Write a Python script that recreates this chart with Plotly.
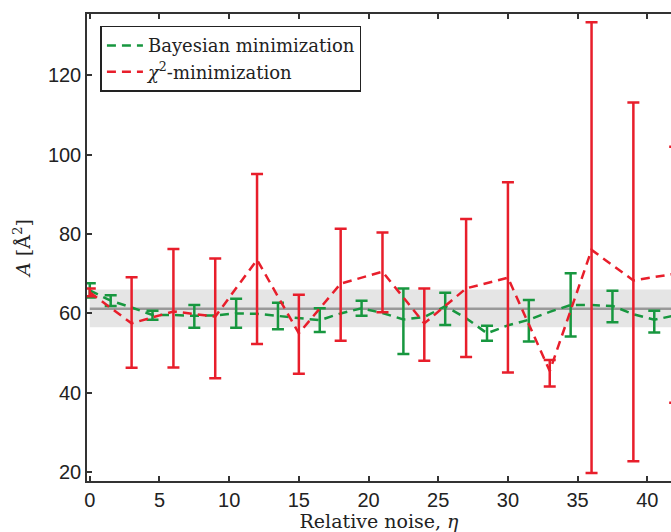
import plotly.graph_objects as go

# ---------------- data ----------------
bayes_eta = [0, 1.5, 3, 4.5, 6, 7.5, 9, 10.5, 12, 13.5, 15, 16.5, 18, 19.5, 21,
             22.5, 24, 25.5, 27, 28.5, 30, 31.5, 33, 34.5, 36, 37.5, 39, 40.5, 42]
bayes_A = [65.8, 63.2, 61.5, 59.6, 59.6, 59.4, 59.5, 60.0, 59.9, 59.4, 58.8, 58.3, 60.0, 61.3, 60.1,
           58.5, 59.1, 61.8, 58.8, 55.0, 57.0, 58.4, 60.4, 62.1, 62.1, 61.9, 59.8, 58.4, 59.5]
# error bar limits (None where no error bar is drawn)
bayes_hi = [67.6, 64.6, None, 60.7, None, 62.1, None, 63.7, None, 62.7, None, 61.3, None, 63.2, None,
            66.3, None, 65.2, None, 56.9, None, 63.4, None, 70.1, None, 65.7, None, 60.7, None]
bayes_lo = [64.0, 61.9, None, 58.4, None, 56.4, None, 56.4, None, 56.0, None, 55.3, None, 59.4, None,
            49.8, None, 57.1, None, 53.1, None, 52.9, None, 54.2, None, 57.8, None, 55.2, None]

chi_eta = [0, 3, 6, 9, 12, 15, 18, 21, 24, 27, 30, 33, 36, 39, 42]
chi_A = [65.3, 57.5, 60.5, 59.2, 73.5, 55.0, 67.5, 70.5, 57.5, 66.3, 69.0, 45.5, 76.0, 68.3, 70.0]
chi_hi = [66.3, 69.1, 76.2, 73.8, 95.1, 64.7, 81.3, 80.4, 66.3, 83.8, 93.0, 48.3, 133.3, 113.1, 102.0]
chi_lo = [64.3, 46.3, 46.4, 43.7, 52.3, 44.8, 53.1, 60.3, 48.1, 49.0, 45.1, 41.6, 19.8, 22.8, 37.5]

ref_A = 61.2
ref_lo = 56.5
ref_hi = 66.0

x_ticks = [0, 5, 10, 15, 20, 25, 30, 35, 40]
y_ticks = [20, 40, 60, 80, 100, 120]

GREEN = "#17973f"
RED = "#e81e2b"
SERIF = "DejaVu Serif"
SANS = "Liberation Sans"

fig = go.Figure()

# reference band and line
fig.add_trace(go.Scatter(x=[0, 45, 45, 0], y=[ref_lo, ref_lo, ref_hi, ref_hi], fill="toself",
                         fillcolor="#e5e5e5", line=dict(width=0), mode="lines",
                         showlegend=False, hoverinfo="skip"))
fig.add_trace(go.Scatter(x=[0, 45], y=[ref_A, ref_A], mode="lines",
                         line=dict(color="#999999", width=2.5), showlegend=False))

# Bayesian
fig.add_trace(go.Scatter(x=bayes_eta, y=bayes_A, mode="lines",
                         line=dict(color=GREEN, width=2.5, dash="9px,6px"),
                         name="Bayesian minimization"))
eb_idx = [i for i, h in enumerate(bayes_hi) if h is not None]
fig.add_trace(go.Scatter(
    x=[bayes_eta[i] for i in eb_idx], y=[bayes_A[i] for i in eb_idx], mode="markers",
    marker=dict(size=1, color=GREEN), showlegend=False,
    error_y=dict(type="data", symmetric=False,
                 array=[bayes_hi[i] - bayes_A[i] for i in eb_idx],
                 arrayminus=[bayes_A[i] - bayes_lo[i] for i in eb_idx],
                 color=GREEN, thickness=2.5, width=6)))

# chi^2
fig.add_trace(go.Scatter(
    x=chi_eta, y=chi_A, mode="lines",
    line=dict(color=RED, width=2.5, dash="9px,6px"),
    name="<i>χ</i><sup>2</sup>-minimization",
    error_y=dict(type="data", symmetric=False,
                 array=[h - a for h, a in zip(chi_hi, chi_A)],
                 arrayminus=[a - l for a, l in zip(chi_A, chi_lo)],
                 color=RED, thickness=2.5, width=6)))

fig.update_layout(
    width=671, height=532,
    margin=dict(l=87, r=0, t=14, b=51),
    paper_bgcolor="white", plot_bgcolor="white",
    showlegend=True,
    font=dict(family=SERIF, color="#222"),
    legend=dict(x=0.023, y=0.975, xanchor="left", yanchor="top",
                bgcolor="white", bordercolor="#222", borderwidth=1.5,
                font=dict(family=SERIF, size=18, color="#222"),
                tracegroupgap=0, itemwidth=36),
    xaxis=dict(range=[-0.2, 41.7], tickvals=x_ticks, ticks="inside", ticklen=5,
               tickwidth=1.5, tickcolor="#333", showline=True, linecolor="#333",
               linewidth=1.5, mirror="ticks", showgrid=False, zeroline=False,
               tickfont=dict(family=SANS, size=20, color="#222"),
               title=dict(text="Relative noise, <i>η</i>", standoff=3,
                          font=dict(family=SERIF, size=19, color="#222"))),
    yaxis=dict(range=[17.8, 135.4], tickvals=y_ticks, ticks="inside", ticklen=5,
               tickwidth=1.5, tickcolor="#333", showline=True, linecolor="#333",
               linewidth=1.5, mirror=False, showgrid=False, zeroline=False,
               tickfont=dict(family=SANS, size=20, color="#222"),
               title=dict(text="<i>A</i> [Å<sup>2</sup>]", standoff=12,
                          font=dict(family=SERIF, size=19, color="#222"))),
)

fig.write_html("out.html")
